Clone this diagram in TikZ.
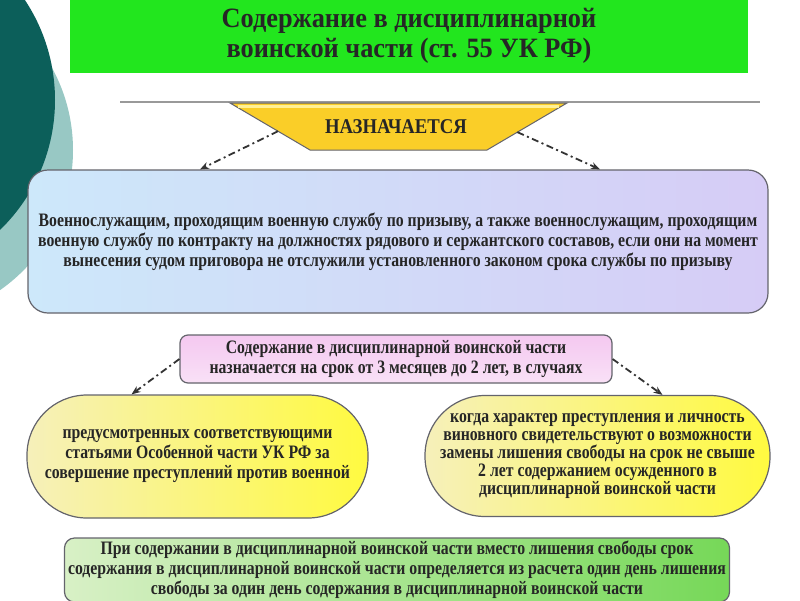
\documentclass[tikz,border=0pt]{standalone}
\usepackage{fontspec}
\setmainfont{Liberation Serif}
\newfontfamily\slidefont[FakeStretch=0.83]{Liberation Serif}
\newfontfamily\ovalfont[FakeStretch=0.89]{Liberation Serif}
\newfontfamily\titlefont[FakeStretch=0.94]{Liberation Serif}
\usetikzlibrary{arrows.meta, positioning, calc}
\definecolor{titlegreen}{RGB}{34,230,30}
\definecolor{tealdark}{RGB}{12,95,90}
\definecolor{teallight}{RGB}{152,200,196}
\definecolor{boxblue}{RGB}{205,232,250}
\definecolor{boxlilac}{RGB}{214,204,246}
\definecolor{pinkfill}{RGB}{244,200,240}
\definecolor{paleyellow}{RGB}{246,240,186}
\definecolor{brightyellow}{RGB}{255,250,64}
\definecolor{palegreen}{RGB}{216,240,198}
\definecolor{grassgreen}{RGB}{118,216,88}
\definecolor{goldrim}{RGB}{255,240,150}
\definecolor{goldbody}{RGB}{250,206,40}
\definecolor{edgegray}{RGB}{100,100,108}

\begin{document}
\begin{tikzpicture}[x=1pt, y=-1pt,
    slidetext/.style={font=\slidefont\bfseries\fontsize{19}{20}\selectfont, align=center, text=black!85},
    roundbox/.style={slidetext, draw=edgegray, line width=1.2pt, inner sep=0pt},
    oval/.style={roundbox, rounded corners=60pt, left color=paleyellow, right color=brightyellow},
    dashdot/.style={-{Stealth[length=9pt,width=7pt]}, draw=black!80, line width=1.8pt,
      dash pattern=on 7pt off 3.5pt on 2pt off 3.5pt}]
  \clip (0,0) rectangle (800,600);
  \fill[white] (0,0) rectangle (800,600);
  \fill[teallight] (-98,150) circle (171pt);
  \fill[tealdark] (-126,100) circle (181pt);

  \node[fill=titlegreen, minimum width=678pt, minimum height=74pt, align=center,
        font=\titlefont\bfseries\fontsize{28}{30}\selectfont, text=black!85] (title) at (409,36)
    {Содержание в дисциплинарной\\воинской части (ст. 55 УК РФ)};
  \draw[draw=gray!80, line width=1.8pt] (120,102) -- (760,102);

  \draw[fill=goldbody, draw=edgegray, line width=1pt]
    (230,103) coordinate (naztl) -- (567,103) coordinate (naztr)
    -- (487,150) coordinate (nazbr) -- (310,150) coordinate (nazbl) -- cycle;
  \draw[goldrim, line width=3pt] ($(naztl)+(8,3)$) -- ($(naztr)+(-8,3)$);
  \node[font=\ovalfont\bfseries\fontsize{21}{22}\selectfont, text=black!85] (naz) at (396,127) {НАЗНАЧАЕТСЯ};
  \coordinate (nazleft) at ($(naztl)!0.6!(nazbl)$);
  \coordinate (nazright) at ($(naztr)!0.62!(nazbr)$);

  \node[roundbox, rounded corners=20pt, minimum width=740pt, minimum height=143pt,
        left color=boxblue, right color=boxlilac] (main) at (398,241.5)
    {Военнослужащим, проходящим военную службу по призыву, а также военнослужащим, проходящим\\
     военную службу по контракту на должностях рядового и сержантского составов, если они на момент\\
     вынесения судом приговора не отслужили установленного законом срока службы по призыву};

  \node[roundbox, rounded corners=8pt, minimum width=432pt, minimum height=48pt,
        top color=pinkfill, bottom color=pinkfill!55!white] (term) at (396,359)
    {Содержание в дисциплинарной воинской части\\назначается на срок от 3 месяцев до 2 лет, в случаях};

  \node[oval, minimum width=341pt, minimum height=123pt] (lft) at (197.5,456.5)
    {предусмотренных соответствующими\\статьями Особенной части УК РФ за\\совершение преступлений против военной};

  \node[oval, minimum width=345pt, minimum height=121pt,
        font=\slidefont\bfseries\fontsize{19}{18.2}\selectfont] (rgt) at (597.5,456)
    {когда характер преступления и личность\\виновного свидетельствуют о возможности\\замены лишения свободы на срок не свыше\\2 лет содержанием осужденного в\\дисциплинарной воинской части};

  \node[roundbox, rounded corners=10pt, minimum width=665pt, minimum height=64pt,
        left color=palegreen, right color=grassgreen] (note) at (397,570)
    {При содержании в дисциплинарной воинской части вместо лишения свободы срок\\
     содержания в дисциплинарной воинской части определяется из расчета один день лишения\\
     свободы за один день содержания в дисциплинарной воинской части};

  \draw[dashdot] (nazleft) -- ([xshift=-198pt]main.north);
  \draw[dashdot] (nazright) -- ([xshift=202pt]main.north);
  \draw[dashdot] (term.west) -- ([xshift=-66pt]lft.north);
  \draw[dashdot] (term.east) -- ([xshift=65pt]rgt.north);
\end{tikzpicture}
\end{document}
